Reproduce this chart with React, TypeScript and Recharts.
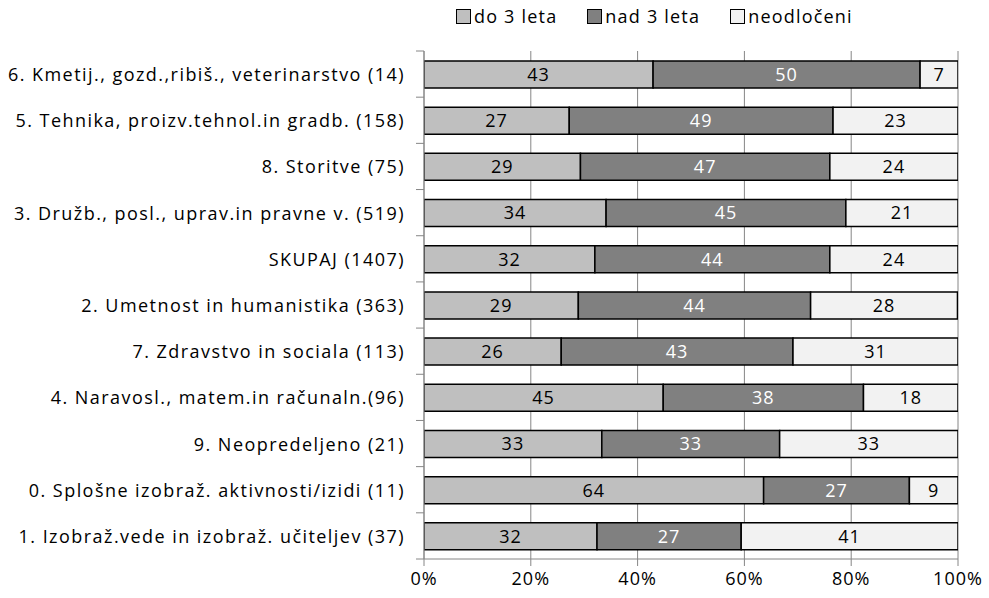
import { BarChart, Bar, XAxis, YAxis, CartesianGrid, LabelList } from "recharts";

const categories = [
  "6. Kmetij., gozd.,ribiš., veterinarstvo (14)",
  "5. Tehnika, proizv.tehnol.in gradb. (158)",
  "8. Storitve (75)",
  "3. Družb., posl., uprav.in pravne v. (519)",
  "SKUPAJ (1407)",
  "2. Umetnost in humanistika (363)",
  "7. Zdravstvo in sociala (113)",
  "4. Naravosl., matem.in računaln.(96)",
  "9. Neopredeljeno (21)",
  "0. Splošne izobraž. aktivnosti/izidi (11)",
  "1. Izobraž.vede in izobraž. učiteljev (37)",
];

const do3 = [42.9, 27.2, 29.3, 34.1, 32.0, 28.9, 25.7, 44.8, 33.3, 63.6, 32.4];
const nad3 = [50.0, 49.4, 46.7, 44.9, 44.0, 43.5, 43.4, 37.5, 33.3, 27.3, 27.0];
const neodloceni = [7.1, 23.4, 24.0, 21.0, 24.0, 27.5, 31.0, 17.7, 33.4, 9.1, 40.6];

const xTicks = [0, 20, 40, 60, 80, 100];

const SERIES = [
  { key: "do3", name: "do 3 leta", color: "#BFBFBF", text: "#000" },
  { key: "nad3", name: "nad 3 leta", color: "#808080", text: "#fff" },
  { key: "neod", name: "neodločeni", color: "#F2F2F2", text: "#000" },
];

const data = categories.map((name, i) => ({
  name,
  do3: do3[i],
  nad3: nad3[i],
  neod: neodloceni[i],
}));

const FONT = "'Open Sans', Lato, sans-serif";
const FS = 18;
const W = 989;
const H = 598;
const TOP = 51;
const BOTTOM_SPACE = 39;
const BAND = (H - TOP - BOTTOM_SPACE) / categories.length;

const CategoryTick = (props: any) => {
  const { x, y, payload, index } = props;
  const ax = x + 8;
  return (
    <g>
      <text
        x={ax - 19}
        y={y}
        textAnchor="end"
        dominantBaseline="central"
        fontSize={FS}
        fontFamily={FONT}
        letterSpacing={1.45}
        fill="#000"
      >
        {payload.value}
      </text>
      <line x1={ax - 8} x2={ax} y1={y - BAND / 2} y2={y - BAND / 2} stroke="#868686" />
      {index === categories.length - 1 && (
        <line x1={ax - 8} x2={ax} y1={y + BAND / 2} y2={y + BAND / 2} stroke="#868686" />
      )}
    </g>
  );
};

export default function App() {
  return (
    <div style={{ position: "absolute", left: 0, top: 0, width: W, height: H, background: "#fff" }}>
      <div
        style={{
          position: "absolute",
          top: 5,
          left: 456,
          display: "flex",
          gap: 30,
          fontFamily: FONT,
          fontSize: FS,
          letterSpacing: 1.2,
          color: "#000",
          lineHeight: "22px",
        }}
      >
        {SERIES.map((s) => (
          <div key={s.key} style={{ display: "flex", alignItems: "center", gap: 3 }}>
            <div
              style={{
                width: 13,
                height: 13,
                background: s.color,
                border: "1.5px solid #000",
              }}
            />
            <span>{s.name}</span>
          </div>
        ))}
      </div>
      <BarChart
        width={W}
        height={H}
        data={data}
        layout="vertical"
        margin={{ top: TOP, right: 31, bottom: 9, left: 0 }}
        barSize={27}
      >
        <CartesianGrid horizontal={false} stroke="#868686" strokeWidth={1} />
        <XAxis
          type="number"
          domain={[0, 100]}
          ticks={xTicks}
          tickFormatter={(v) => `${v}%`}
          height={30}
          stroke="#868686"
          tickSize={7}
          tick={{ fontSize: FS, fontFamily: FONT, fill: "#000", letterSpacing: 1 }}
          tickMargin={6}
          allowDataOverflow
        />
        <YAxis
          type="category"
          dataKey="name"
          width={424}
          stroke="#868686"
          tickLine={false}
          tickSize={0}
          tickMargin={8}
          tick={<CategoryTick />}
          interval={0}
        />
        {SERIES.map((s) => (
          <Bar
            key={s.key}
            dataKey={s.key}
            name={s.name}
            stackId="a"
            fill={s.color}
            stroke="#000"
            strokeWidth={1.5}
            isAnimationActive={false}
          >
            <LabelList
              dataKey={s.key}
              position="center"
              formatter={(v: any) => Math.round(Number(v))}
              fill={s.text}
              fontSize={FS}
              fontFamily={FONT}
              letterSpacing={1}
            />
          </Bar>
        ))}
      </BarChart>
    </div>
  );
}
